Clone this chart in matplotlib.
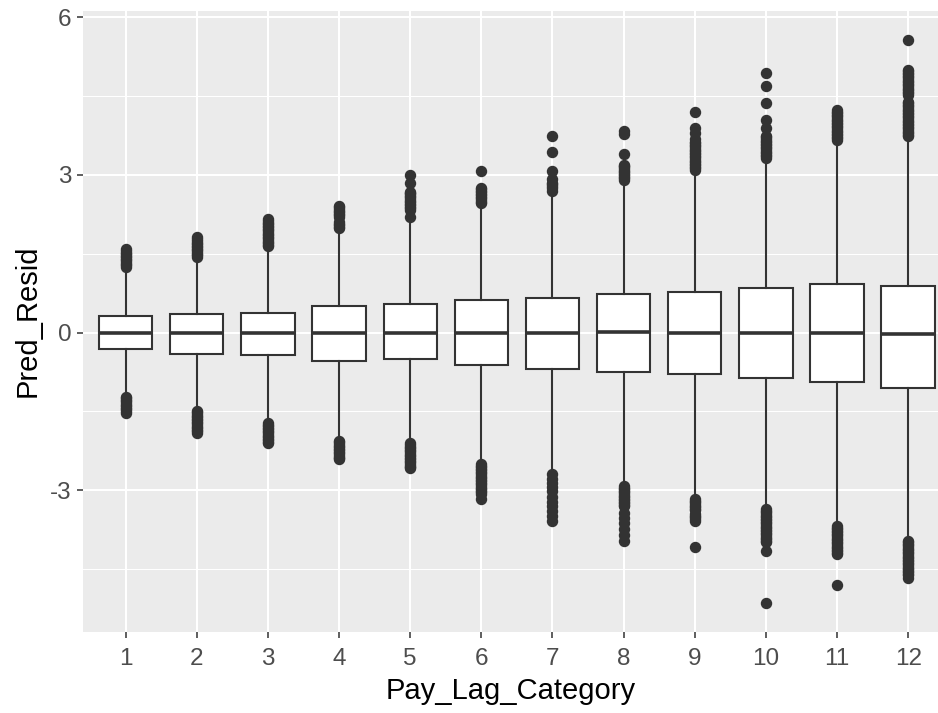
import matplotlib
matplotlib.use("Agg")
import matplotlib.pyplot as plt

# categories
cats = ["1", "2", "3", "4", "5", "6", "7", "8", "9", "10", "11", "12"]

# box stats
q1 = [-0.31, -0.40, -0.43, -0.55, -0.51, -0.62, -0.70, -0.75, -0.78, -0.86, -0.94, -1.05]
med = [0.0, -0.01, 0.0, 0.0, 0.0, 0.0, -0.01, 0.01, 0.0, 0.0, 0.0, -0.03]
q3 = [0.31, 0.35, 0.38, 0.50, 0.54, 0.61, 0.65, 0.73, 0.77, 0.84, 0.92, 0.88]
whislo = [-1.19, -1.45, -1.68, -2.02, -2.08, -2.46, -2.66, -2.88, -3.13, -3.32, -3.64, -3.92]
whishi = [1.20, 1.40, 1.60, 1.95, 2.17, 2.44, 2.66, 2.86, 3.05, 3.28, 3.62, 3.70]

# outliers (upper and lower) per category
out_hi = [
    [1.25, 1.28, 1.31, 1.34, 1.37, 1.40, 1.43, 1.46, 1.49, 1.52, 1.55, 1.58],
    [1.44, 1.47, 1.50, 1.53, 1.56, 1.59, 1.62, 1.65, 1.68, 1.71, 1.74, 1.77, 1.81],
    [1.64, 1.67, 1.70, 1.73, 1.76, 1.79, 1.82, 1.85, 1.88, 1.91, 1.94, 1.97, 2.00, 2.03,
     2.06, 2.09, 2.12, 2.16],
    [1.98, 2.01, 2.04, 2.07, 2.10, 2.20, 2.23, 2.26, 2.29, 2.32, 2.35, 2.38, 2.40],
    [2.20, 2.33, 2.36, 2.39, 2.42, 2.45, 2.48, 2.51, 2.54, 2.57, 2.60, 2.63, 2.66, 2.68,
     2.84, 2.99],
    [2.46, 2.49, 2.52, 2.55, 2.58, 2.61, 2.64, 2.67, 2.70, 2.73, 2.75, 3.08],
    [2.70, 2.74, 2.78, 2.82, 2.85, 2.92, 3.08, 3.43, 3.73],
    [2.90, 2.93, 2.96, 2.99, 3.02, 3.05, 3.08, 3.11, 3.14, 3.17, 3.19, 3.40, 3.78, 3.83],
    [3.09, 3.12, 3.15, 3.18, 3.21, 3.24, 3.27, 3.30, 3.33, 3.36, 3.39, 3.42, 3.45, 3.48,
     3.51, 3.54, 3.57, 3.60, 3.62, 3.68, 3.80, 3.88, 4.19],
    [3.32, 3.35, 3.38, 3.41, 3.44, 3.47, 3.50, 3.53, 3.56, 3.59, 3.62, 3.65, 3.68, 3.71,
     3.73, 3.89, 4.04, 4.37, 4.68, 4.94],
    [3.66, 3.69, 3.72, 3.75, 3.78, 3.81, 3.84, 3.87, 3.90, 3.93, 3.96, 3.99, 4.02, 4.05,
     4.08, 4.11, 4.14, 4.17, 4.20, 4.23],
    [3.73, 3.76, 3.79, 3.82, 3.85, 3.88, 3.91, 3.94, 3.97, 4.00, 4.03, 4.06, 4.09, 4.12,
     4.15, 4.18, 4.21, 4.24, 4.27, 4.30, 4.33, 4.36, 4.39, 4.52, 4.55, 4.58, 4.61, 4.64,
     4.67, 4.70, 4.73, 4.76, 4.79, 4.82, 4.85, 4.88, 4.91, 4.94, 4.97, 4.99, 5.56],
]
out_lo = [
    [-1.22, -1.25, -1.28, -1.31, -1.34, -1.37, -1.40, -1.43, -1.46, -1.49, -1.53],
    [-1.49, -1.52, -1.55, -1.58, -1.61, -1.64, -1.67, -1.70, -1.73, -1.76, -1.79, -1.82,
     -1.85, -1.88, -1.92],
    [-1.72, -1.75, -1.78, -1.81, -1.84, -1.87, -1.90, -1.93, -1.96, -1.99, -2.02, -2.05,
     -2.08, -2.11],
    [-2.06, -2.09, -2.12, -2.15, -2.18, -2.21, -2.24, -2.27, -2.30, -2.33, -2.36, -2.39,
     -2.41],
    [-2.11, -2.14, -2.17, -2.20, -2.23, -2.26, -2.29, -2.32, -2.35, -2.38, -2.41, -2.44,
     -2.47, -2.50, -2.53, -2.56, -2.58],
    [-2.50, -2.53, -2.56, -2.59, -2.62, -2.65, -2.68, -2.71, -2.74, -2.77, -2.80, -2.83,
     -2.86, -2.89, -2.92, -2.95, -2.98, -3.01, -3.04, -3.07, -3.16],
    [-2.70, -2.78, -2.86, -2.94, -3.02, -3.12, -3.22, -3.30, -3.40, -3.49, -3.58],
    [-2.92, -2.95, -2.98, -3.01, -3.04, -3.07, -3.10, -3.13, -3.16, -3.19, -3.22, -3.25,
     -3.28, -3.30, -3.44, -3.52, -3.62, -3.74, -3.86, -3.96],
    [-3.17, -3.20, -3.23, -3.26, -3.29, -3.32, -3.35, -3.38, -3.45, -3.48, -3.51, -3.54,
     -3.58, -4.08],
    [-3.36, -3.39, -3.42, -3.45, -3.48, -3.51, -3.54, -3.57, -3.60, -3.63, -3.66, -3.69,
     -3.72, -3.75, -3.78, -3.81, -3.84, -3.87, -3.90, -3.93, -3.96, -3.99, -4.15, -5.15],
    [-3.68, -3.71, -3.74, -3.77, -3.80, -3.83, -3.86, -3.89, -3.92, -3.95, -3.98, -4.01,
     -4.04, -4.07, -4.10, -4.13, -4.16, -4.19, -4.21, -4.80],
    [-3.96, -3.99, -4.02, -4.05, -4.08, -4.11, -4.14, -4.17, -4.20, -4.23, -4.26, -4.29,
     -4.32, -4.35, -4.38, -4.41, -4.44, -4.47, -4.50, -4.53, -4.56, -4.59, -4.62, -4.66],
]

y_major = [-3, 0, 3, 6]
y_minor = [-4.5, -1.5, 1.5, 4.5]

plt.rcParams['font.family'] = ['Liberation Sans', 'DejaVu Sans']

fig = plt.figure(figsize=(9.38, 7.13), dpi=100)
ax = fig.add_axes([0.0885, 0.114, 0.9115, 0.871])
ax.set_facecolor("#EBEBEB")

stats = []
for i in range(len(cats)):
    stats.append(dict(q1=q1[i], med=med[i], q3=q3[i], whislo=whislo[i], whishi=whishi[i],
                      fliers=out_hi[i] + out_lo[i]))

pos = list(range(1, len(cats) + 1))
dark = "#333333"
ax.bxp(stats, positions=pos, widths=0.75, patch_artist=True, showcaps=False,
       boxprops=dict(facecolor="white", edgecolor=dark, linewidth=1.5),
       medianprops=dict(color=dark, linewidth=2.6, solid_capstyle="butt"),
       whiskerprops=dict(color=dark, linewidth=1.5),
       flierprops=dict(marker="o", markerfacecolor=dark, markeredgecolor=dark,
                       markersize=7.2, linestyle="none"),
       zorder=3)

ax.set_xlim(0.4, 12.42)
ax.set_ylim(-5.69, 6.12)
ax.set_xticks(pos)
ax.set_xticklabels(cats)
ax.set_yticks(y_major)
ax.set_yticklabels([str(v) for v in y_major])
ax.set_yticks(y_minor, minor=True)

ax.grid(True, which="major", color="white", linewidth=1.5, zorder=0)
ax.grid(True, which="minor", axis="y", color="white", linewidth=0.75, zorder=0)
ax.set_axisbelow(True)
for s in ax.spines.values():
    s.set_visible(False)

ax.tick_params(which="major", length=4.5, width=1.1, color=dark, labelcolor="#4D4D4D",
               labelsize=17.5, pad=4)
ax.tick_params(axis="x", which="major", pad=7.5)
ax.tick_params(which="minor", length=0)

ax.set_xlabel("Pay_Lag_Category", fontsize=21, color="black", labelpad=5)
ax.set_ylabel("Pred_Resid", fontsize=21, color="black", labelpad=6)

fig.savefig("out.png", dpi=100)
